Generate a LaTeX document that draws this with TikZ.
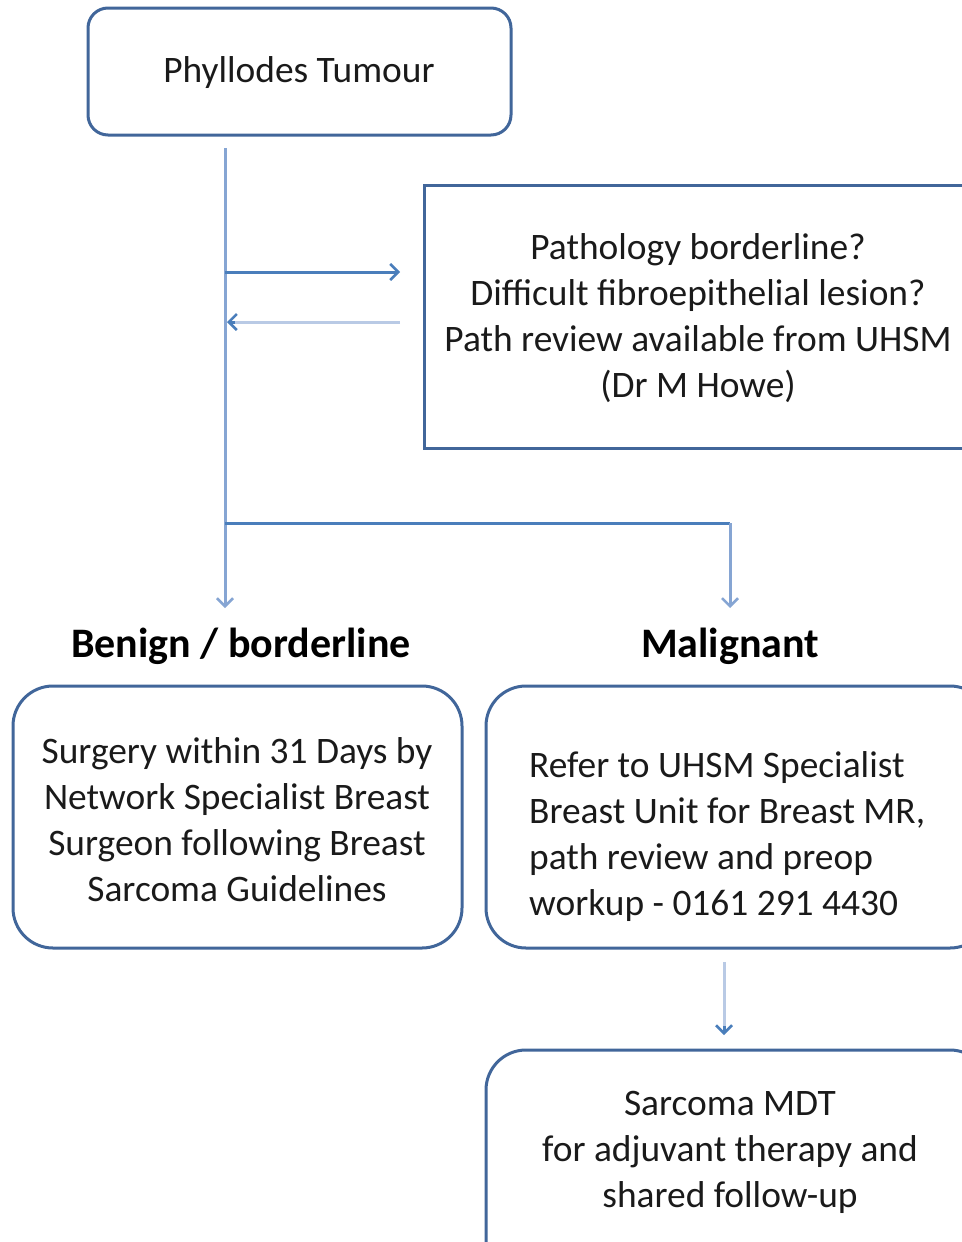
\documentclass[tikz,border=0pt]{standalone}
\usepackage{fontspec}
\setmainfont{Carlito}
\usetikzlibrary{arrows.meta,calc}
\definecolor{boxline}{HTML}{41669A}
\definecolor{flowdark}{HTML}{4A7EBB}
\definecolor{flowmid}{HTML}{86A5D3}
\definecolor{flowlight}{HTML}{B9CAE5}
\definecolor{inktext}{HTML}{1A1A1A}
\begin{document}
\begin{tikzpicture}[x=1pt,y=-1pt,
  roundbox/.style={draw=boxline,line width=3pt,rounded corners=#1,inner sep=0pt},
  squarebox/.style={draw=boxline,line width=3pt,inner sep=0pt},
  body/.style={font=\fontsize{37.4}{46}\selectfont,text=inktext,inner sep=0pt},
  heading/.style={font=\fontsize{42}{46}\selectfont\bfseries,text=black,inner sep=0pt},
  tip/.style={-{Straight Barb[length=8pt,width=16pt,line width=2.5pt]}},
  flow/.style={line width=3pt,tip}]
\useasboundingbox (0,0) rectangle (961,1242);

% boxes
\node[roundbox=20pt,minimum width=423pt,minimum height=127pt] (phy) at (299.5,71.5) {};
\node[squarebox,minimum width=560pt,minimum height=263pt] (path) at (704,316.5) {};
\node[roundbox=40pt,minimum width=449pt,minimum height=262pt] (benign) at (237.5,817) {};
\node[roundbox=40pt,minimum width=504pt,minimum height=262pt] (malig) at (738,817) {};
\node[roundbox=40pt,minimum width=504pt,minimum height=260pt] (mdt) at (738,1180) {};

% texts
\node[body] (phyt) at (299,73) {Phyllodes Tumour};
\node[body,align=center] (patht) at (698,318) {Pathology borderline?\\Difficult fibroepithelial lesion?\\Path review available from UHSM\\(Dr M Howe)};
\node[heading] (bhead) at (241,646) {Benign / borderline};
\node[heading] (mhead) at (730,646) {Malignant};
\node[body,align=center] (benignt) at (237,820) {Surgery within 31 Days by\\Network Specialist Breast\\Surgeon following Breast\\Sarcoma Guidelines};
\node[body,align=left,anchor=west] (maligt) at (529,837) {Refer to UHSM Specialist\\Breast Unit for Breast MR,\\path review and preop\\workup - 0161 291 4430};
\node[body,align=center] (mdtt) at (730,1152) {Sarcoma MDT\\for adjuvant therapy and\\shared follow-up};

% connector end points
\coordinate (trunktop) at (225,148);
\coordinate (split) at (225,523);
\coordinate (btip) at (225,608);
\coordinate (mtip) at (730,608);
\coordinate (outstart) at (225,272);
\coordinate (outend) at (400,272);
\coordinate (backstart) at (400,322);
\coordinate (backend) at (227,322);
\coordinate (mdtstart) at (724,962);
\coordinate (mdtend) at (724,1035);

% connectors
\draw[flowmid,flow] (trunktop) -- (btip);
\draw[flowdark,line width=3pt] (split) -- (730,523);
\draw[flowmid,flow] (730,523) -- (mtip);
\draw[flowdark,flow] (outstart) -- (outend);
\draw[flowlight,line width=3pt] (backstart) -- ($(backend)+(6,0)$);
\draw[flowdark,tip,line width=3pt] ($(backend)+(8,0)$) -- (backend);
\draw[flowlight,line width=3pt] (mdtstart) -- (724,1028);
\draw[flowdark,tip,line width=3pt] (724,1026) -- (mdtend);
\end{tikzpicture}
\end{document}
